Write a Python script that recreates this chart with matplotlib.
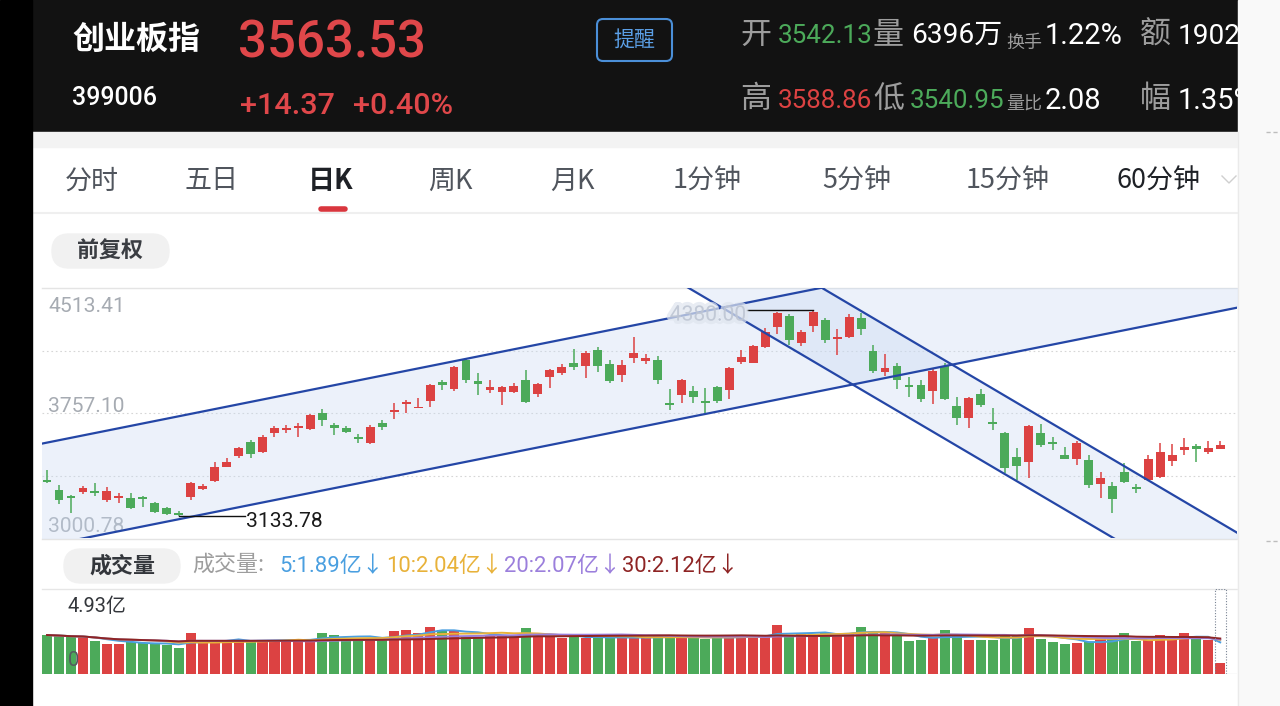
import matplotlib
matplotlib.use('Agg')
import matplotlib.pyplot as plt
from matplotlib.patches import Rectangle, FancyBboxPatch
from matplotlib import patheffects
import numpy as np
import pandas as pd

# daily candles of 创业板指, oldest first
opens = [3352, 3291, 3255, 3279, 3285, 3231, 3243, 3243, 3249, 3213,
         3183, 3152, 3249, 3297, 3346, 3431, 3497, 3582, 3521, 3636,
         3654, 3667, 3660, 3757, 3685, 3667, 3612, 3576, 3697, 3763,
         3812, 3788, 3830, 3945, 3902, 4078, 3951, 3896, 3884, 3884,
         3957, 3872, 3975, 3999, 4060, 4042, 4138, 4054, 3987, 4090,
         4072, 4078, 3818, 3866, 3890, 3830, 3915, 3896, 4066, 4060,
         4157, 4278, 4344, 4181, 4284, 4320, 4205, 4217, 4332, 4132,
         4005, 4042, 3927, 3927, 3890, 4042, 3800, 3727, 3872, 3703,
         3636, 3491, 3461, 3636, 3582, 3503, 3479, 3473, 3328, 3316,
         3400, 3310, 3352, 3370, 3467, 3533, 3558, 3521, 3542.13]
highs = [3412, 3322, 3258, 3316, 3334, 3310, 3273, 3273, 3252, 3219,
         3189, 3164, 3340, 3328, 3461, 3485, 3552, 3594, 3624, 3679,
         3685, 3697, 3751, 3781, 3697, 3679, 3630, 3685, 3715, 3818,
         3836, 3848, 3933, 3957, 4042, 4090, 3999, 3957, 3921, 3939,
         4017, 3939, 4023, 4054, 4144, 4132, 4157, 4078, 4078, 4217,
         4114, 4102, 3902, 3963, 3921, 3908, 3921, 4036, 4138, 4169,
         4271, 4368, 4356, 4259, 4380, 4332, 4265, 4356, 4362, 4169,
         4114, 4060, 3975, 3957, 4023, 4060, 3854, 3854, 3902, 3788,
         3640, 3546, 3685, 3691, 3612, 3552, 3588, 3503, 3400, 3340,
         3455, 3328, 3503, 3576, 3570, 3606, 3567, 3588, 3588.86]
lows = [3334, 3207, 3152, 3267, 3255, 3219, 3213, 3176, 3189, 3152,
        3140, 3133.78, 3231, 3291, 3340, 3428, 3485, 3485, 3515, 3612,
        3636, 3612, 3654, 3679, 3624, 3636, 3576, 3570, 3654, 3721,
        3757, 3788, 3794, 3896, 3890, 3939, 3866, 3878, 3806, 3878,
        3818, 3854, 3908, 3987, 4017, 3969, 4005, 3939, 3945, 4060,
        4054, 3933, 3775, 3818, 3818, 3757, 3818, 3842, 4054, 4060,
        4151, 4235, 4169, 4163, 4247, 4181, 4108, 4211, 4229, 3999,
        3981, 3902, 3854, 3824, 3812, 3836, 3685, 3667, 3794, 3654,
        3394, 3352, 3364, 3552, 3533, 3479, 3443, 3303, 3243, 3152,
        3334, 3273, 3346, 3364, 3437, 3503, 3461, 3509, 3540.95]
closes = [3340, 3231, 3243, 3303, 3273, 3285, 3255, 3183, 3237, 3158,
          3146, 3140, 3334, 3316, 3431, 3461, 3546, 3509, 3612, 3667,
          3667, 3679, 3745, 3715, 3667, 3642, 3600, 3673, 3673, 3775,
          3824, 3794, 3927, 3927, 4036, 3957, 3933, 3915, 3915, 3921,
          3824, 3933, 4017, 4036, 4036, 4120, 4042, 3951, 4048, 4120,
          4090, 3957, 3806, 3957, 3854, 3818, 3830, 4030, 4096, 4163,
          4247, 4362, 4199, 4247, 4368, 4199, 4217, 4338, 4265, 4011,
          4030, 3957, 3915, 3842, 4011, 3842, 3727, 3848, 3806, 3691,
          3425, 3437, 3679, 3564, 3570, 3479, 3576, 3322, 3364, 3237,
          3340, 3297, 3479, 3521, 3503, 3552, 3539, 3546, 3563.53]
# daily volume, 亿
volumes = [2.26, 2.20, 2.12, 2.12, 1.90, 1.74, 1.74, 1.84, 1.80, 1.76,
           1.70, 1.50, 2.35, 1.92, 1.92, 1.92, 1.92, 1.92, 1.98, 1.98,
           1.98, 1.98, 1.98, 2.40, 2.28, 2.10, 2.10, 2.02, 1.98, 2.50,
           2.55, 2.35, 2.72, 2.55, 2.50, 2.16, 2.16, 2.22, 2.22, 2.16,
           2.65, 2.16, 2.22, 2.08, 2.16, 2.10, 2.16, 2.10, 2.10, 2.10,
           2.12, 2.20, 2.20, 2.12, 2.10, 2.05, 2.16, 2.16, 2.20, 2.20,
           2.20, 2.85, 2.25, 2.30, 2.30, 2.35, 2.35, 2.38, 2.70, 2.42,
           2.35, 2.20, 1.90, 1.95, 2.10, 2.55, 2.20, 2.00, 2.00, 2.00,
           2.20, 2.20, 2.65, 2.05, 1.84, 1.72, 1.78, 1.88, 2.02, 2.05,
           2.38, 1.90, 2.00, 2.25, 2.05, 2.35, 2.16, 1.98, 0.64]

price_top = 4513.41
price_bot = 3000.78
vol_top = 4.93

# hand-drawn channels: (candle index, price) end points
rise_low = [(0, 2955), (98, 4374)]
rise_high = [(0, 3578), (98, 4997)]
fall_high = [(60, 4716), (98, 3093)]
fall_low = [(50, 4667), (98, 2620)]

tabs = ['分时', '五日', '日K', '周K', '月K', '1分钟', '5分钟', '15分钟', '60分钟']
tab_x = [65, 185, 308, 428, 550, 673, 822, 966, 1117]

ma_days = [5, 10, 20, 30]
ma_labels = ['5:1.89亿↓', '10:2.04亿↓', '20:2.07亿↓', '30:2.12亿↓']
ma_colors = ['#4a9fe0', '#e8b23a', '#9b7fdc', '#8e2424']

RED = '#dc4242'
GREEN = '#4caa5a'
CJK = ['Noto Sans CJK SC', 'DejaVu Sans']
NUM = ['Roboto', 'Noto Sans CJK SC', 'DejaVu Sans']
W, H = 1280, 706


def pt(px):
    return px * 72 / 100


def line_at(pts, x):
    (x0, y0), (x1, y1) = pts
    return y0 + (y1 - y0) * (np.asarray(x) - x0) / (x1 - x0)


def main():
    fig = plt.figure(figsize=(W / 100, H / 100), dpi=100)
    bg = fig.add_axes([0, 0, 1, 1])
    bg.set_xlim(0, W)
    bg.set_ylim(H, 0)
    bg.axis('off')

    # page chrome
    bg.add_patch(Rectangle((0, 0), W, H, color='white', zorder=0))
    bg.add_patch(Rectangle((32, 0), 1206, 132, color='#121212', zorder=1))
    bg.add_patch(Rectangle((32, 132), 1206, 15, color='#f3f3f3', zorder=1))
    bg.plot([32, 1238], [213, 213], color='#efefef', lw=1.5, zorder=1)
    bg.add_patch(Rectangle((0, 0), 32, H, color='black', zorder=11))
    bg.add_patch(Rectangle((1238, 0), 42, H, color='#f9f9f9', zorder=10))
    bg.plot([1238, 1238], [132, H], color='#eaeaea', lw=1, zorder=11)
    for yy in [132, 541]:
        bg.plot([1266, 1280], [yy, yy], color='#bdbdbd', lw=1, ls=(0, (3, 2)), zorder=11)

    # header, left
    bg.text(72, 40, '创业板指', color='white', fontsize=pt(32), fontweight='bold',
            family=CJK, va='center', zorder=3)
    bg.text(238, 43, f'{closes[-1]:.2f}', color='#e0474a', fontsize=pt(51),
            family=NUM, fontweight='medium', va='center', zorder=3)
    bg.text(72, 98, '399006', color='white', fontsize=pt(25), family=NUM,
            fontweight='medium', va='center')
    bg.text(240, 106, '+14.37', color='#e0474a', fontsize=pt(30.5), family=NUM,
            fontweight='medium', va='center')
    bg.text(353, 106, '+0.40%', color='#e0474a', fontsize=pt(30.5), family=NUM,
            fontweight='medium', va='center')
    bg.add_patch(FancyBboxPatch((597, 19), 75, 42, boxstyle='round,pad=0,rounding_size=6',
                                fill=False, ec='#4b8fd8', lw=1.5, zorder=3))
    bg.text(634, 40, '提醒', color='#5b9fe6', fontsize=pt(21), family=CJK,
            ha='center', va='center')

    # header, right
    gray = '#9d9d9d'
    row1 = [('开', 740, 35, gray, 31), ('3542.13', 778, 36, GREEN, 26),
            ('量', 873, 35, gray, 31), ('6396万', 911, 35, 'white', 28),
            ('换手', 1006, 43, gray, 18), ('1.22%', 1045, 36, 'white', 29),
            ('额', 1140, 35, gray, 31), ('1902亿', 1178, 36, 'white', 28)]
    row2 = [('高', 740, 100, gray, 31), ('3588.86', 778, 101, RED, 26),
            ('低', 873, 100, gray, 31), ('3540.95', 910, 101, GREEN, 26),
            ('量比', 1006, 105, gray, 18), ('2.08', 1045, 101, 'white', 29),
            ('幅', 1140, 100, gray, 31), ('1.35%', 1178, 101, 'white', 29)]
    for s, x, y, c, size in row1 + row2:
        bg.text(x, y, s, color=c, fontsize=pt(size), family=NUM, va='center', zorder=3)

    # tab bar
    for s, x in zip(tabs, tab_x):
        dark = s in ('日K', '60分钟')
        bg.text(x, 181, s, color='#1e2126' if dark else '#50555d', fontsize=pt(27),
                family=CJK, fontweight='bold' if s == '日K' else 'medium', va='center')
    bg.plot([321, 345], [209, 209], color='#d9363e', lw=4, solid_capstyle='round')
    bg.plot([1222, 1229, 1236], [176, 183, 176], color='#cfcfcf', lw=1)

    bg.add_patch(FancyBboxPatch((52, 234), 117, 34, boxstyle='round,pad=0,rounding_size=17',
                                color='#f1f1f1', zorder=1))
    bg.text(110, 251, '前复权', color='#3a3d42', fontsize=pt(22), family=CJK,
            fontweight='bold', ha='center', va='center', zorder=3)

    # price panel frame and labels
    bg.plot([42, 1237], [288, 288], color='#e4e4e4', lw=1)
    bg.plot([42, 1237], [539, 539], color='#e4e4e4', lw=1)
    mid = (price_top + price_bot) / 2
    for s, y in [(f'{price_top:.2f}', 307), (f'{mid:.2f}', 406), (f'{price_bot:.2f}', 526)]:
        bg.text(48, y, s, color='#a6abb2', fontsize=pt(21), family=NUM, va='center', zorder=5)

    # volume header
    bg.add_patch(FancyBboxPatch((64, 549), 116, 34, boxstyle='round,pad=0,rounding_size=17',
                                color='#f1f1f1', zorder=1))
    bg.text(122, 566, '成交量', color='#33363b', fontsize=pt(22), family=CJK,
            fontweight='bold', ha='center', va='center', zorder=3)
    bg.text(192, 566, '成交量:', color='#9d9d9d', fontsize=pt(22), family=CJK, va='center')
    for s, x, c in zip(ma_labels, [279, 386, 504, 622], ma_colors):
        bg.text(x, 566, s, color=c, fontsize=pt(22), family=NUM, va='center')
    bg.plot([42, 1237], [589, 589], color='#e6e6e6', lw=1)
    bg.text(68, 607, f'{vol_top:.2f}亿', color='#33363b', fontsize=pt(20), family=NUM,
            va='center')

    # candles
    idx = np.arange(len(opens))
    o = np.array(opens, float)
    c = np.array(closes, float)
    colors = np.where(c >= o, RED, GREEN)

    ax = fig.add_axes([42 / W, 1 - 538 / H, 1195 / W, 250 / H])
    ax.set_xlim(-0.42, 99.4)
    ax.set_ylim(price_bot, price_top)
    ax.axis('off')
    step = (price_top - price_bot) / 4
    for k in (1, 2, 3):
        ax.axhline(price_bot + k * step, color='#d6d6d6', lw=0.8, ls=(0, (1.5, 2.5)), zorder=1)

    xs = np.linspace(-1, 100.5, 50)
    ax.fill_between(xs, line_at(rise_low, xs), line_at(rise_high, xs),
                    color='#c9d9f2', alpha=0.35, lw=0, zorder=1)
    xs2 = np.linspace(45, 100.5, 50)
    ax.fill_between(xs2, line_at(fall_low, xs2), line_at(fall_high, xs2),
                    color='#c9d9f2', alpha=0.35, lw=0, zorder=1)
    for pts, dom in [(rise_low, xs), (rise_high, xs), (fall_high, xs2), (fall_low, xs2)]:
        ax.plot(dom, line_at(pts, dom), color='#2446a6', lw=1.6, zorder=5)

    ax.vlines(idx, lows, highs, colors=colors, lw=1.1, zorder=3)
    body = np.abs(c - o)
    min_body = 7
    bottom = np.where(body < min_body, (o + c) / 2 - min_body / 2, np.minimum(o, c))
    ax.bar(idx, np.maximum(body, min_body), bottom=bottom, width=0.74,
           color=colors, zorder=4)

    # lowest / highest marks (the highest label is blurred in the screenshot)
    i_lo = int(np.argmin(lows))
    ax.plot([i_lo, i_lo + 5.5], [lows[i_lo], lows[i_lo]], color='#111', lw=1, zorder=6)
    ax.text(i_lo + 5.65, lows[i_lo] - 35, f'{lows[i_lo]:.2f}', color='#1a1a1a',
            fontsize=pt(21), family=NUM, va='center', zorder=6)
    i_hi = int(np.argmax(highs))
    ax.plot([i_hi - 5.5, i_hi], [highs[i_hi], highs[i_hi]], color='#111', lw=1, zorder=6)
    ax.text(i_hi - 5.6, highs[i_hi] - 30, f'{highs[i_hi]:.2f}', color='#b4bccb',
            alpha=0.6, fontsize=pt(21), family=NUM, ha='right', va='center', zorder=6,
            path_effects=[patheffects.withStroke(linewidth=5, foreground='#dfe5ee', alpha=0.7)])

    # volume bars and averages
    axv = fig.add_axes([42 / W, 1 - 674 / H, 1195 / W, 85 / H])
    axv.set_xlim(-0.42, 99.4)
    axv.set_ylim(0, vol_top)
    axv.axis('off')
    axv.bar(idx, volumes, width=0.84, color=colors, zorder=2)
    vs = pd.Series(volumes)
    for n, col in zip(ma_days, ma_colors):
        axv.plot(idx, vs.rolling(n, min_periods=1).mean(), color=col, lw=1.4, zorder=3)
    axv.axhline(0, color='#e6e6e6', lw=1, zorder=1)
    axv.add_patch(Rectangle((idx[-1] - 0.45, 0), 0.9, vol_top, fill=False,
                            ec='#7a8494', lw=0.8, ls=(0, (1, 1.5)), zorder=4))
    fig.text(68 / W, 1 - 660 / H, '0', color='#555a60', fontsize=pt(20), family=NUM,
             va='center', zorder=5)

    fig.savefig('out.png', dpi=100)


if __name__ == "__main__":
    main()
